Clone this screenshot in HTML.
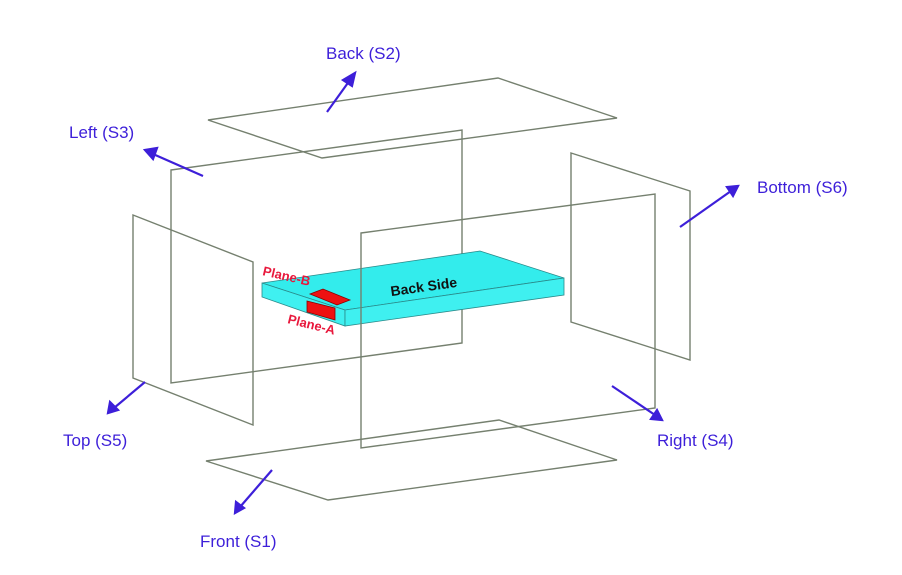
<!DOCTYPE html>
<html><head><style>
html,body{margin:0;padding:0;background:#fff;}
svg{display:block;}
.l{font-family:"Liberation Sans",sans-serif;font-size:17px;fill:#3d1fd9;}
</style></head><body>
<svg width="902" height="575" viewBox="0 0 902 575" xmlns="http://www.w3.org/2000/svg">
<g fill="none" stroke="#75806f" stroke-width="1.4">
<polygon points="208,120 498,78 617,118 322,158"/>
<polygon points="171,170 462,130 462,343 171,383"/>
<polygon points="133,215 253,262 253,425 133,378"/>
<polygon points="571,153 690,191 690,360 571,322"/>
<polygon points="206,461 499,420 617,460 328,500"/>
</g>
<g stroke="#2a8a8a" stroke-width="0.8">
<polygon points="262,283 480,251 564,278 345,310" fill="#33ecec"/>
<polygon points="262,283 345,310 345,326 262,297" fill="#3ff0f0"/>
<polygon points="345,310 564,278 564,295 345,326" fill="#3ff0f0"/>
<polygon points="310,294 323,289 350,300 337,305" fill="#ee1111" stroke="#800"/>
<polygon points="307,301 335,308 335,320 307,312" fill="#ee1111" stroke="#800"/>
</g>
<text x="390" y="292" transform="rotate(-8 420 285)" font-family="Liberation Sans,sans-serif" font-weight="bold" font-size="14" fill="#111">Back Side</text>
<text x="262" y="275" transform="rotate(13 262 275)" font-family="Liberation Sans,sans-serif" font-weight="bold" font-size="13" fill="#e8183c">Plane-B</text>
<text x="287" y="323" transform="rotate(14 287 323)" font-family="Liberation Sans,sans-serif" font-weight="bold" font-size="13" fill="#e8183c">Plane-A</text>
<polygon points="361,233 655,194 655,408 361,448" fill="none" stroke="#75806f" stroke-width="1.4"/>
<g stroke="#3d1fd9" stroke-width="2.2" fill="#3d1fd9">
<line x1="327" y1="112" x2="350" y2="80"/><polygon points="355,73 343,80 352,86"/>
<line x1="203" y1="176" x2="153" y2="154"/><polygon points="145,150 157,148 153,159"/>
<line x1="680" y1="227" x2="731" y2="191"/><polygon points="738,186 727,187 733,196"/>
<line x1="145" y1="382" x2="114" y2="408"/><polygon points="108,413 110,402 118,410"/>
<line x1="612" y1="386" x2="655" y2="415"/><polygon points="662,420 651,419 657,410"/>
<line x1="272" y1="470" x2="240" y2="507"/><polygon points="235,513 236,502 244,508"/>
</g>
<text class="l" x="326" y="59">Back (S2)</text>
<text class="l" x="69" y="138">Left (S3)</text>
<text class="l" x="757" y="193">Bottom (S6)</text>
<text class="l" x="63" y="446">Top (S5)</text>
<text class="l" x="657" y="446">Right (S4)</text>
<text class="l" x="200" y="547">Front (S1)</text>
</svg>
</body></html>
